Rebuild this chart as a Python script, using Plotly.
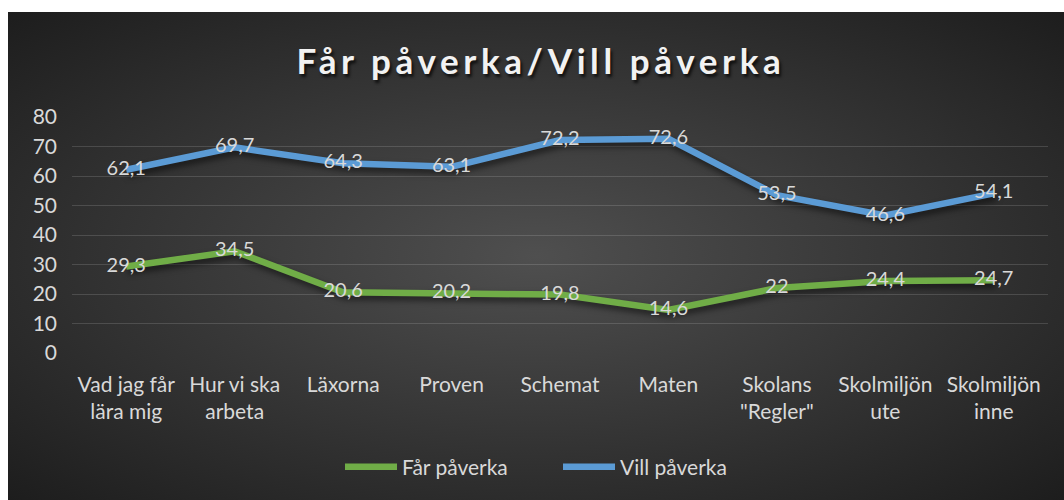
import base64
import plotly.graph_objects as go

categories = ["Vad jag får<br>lära mig", "Hur vi ska<br>arbeta", "Läxorna", "Proven", "Schemat",
              "Maten", "Skolans<br>\"Regler\"", "Skolmiljön<br>ute", "Skolmiljön<br>inne"]
far_paverka = [29.3, 34.5, 20.6, 20.2, 19.8, 14.6, 22, 24.4, 24.7]
vill_paverka = [62.1, 69.7, 64.3, 63.1, 72.2, 72.6, 53.5, 46.6, 54.1]
y_ticks = [0, 10, 20, 30, 40, 50, 60, 70, 80]

W, H = 1064, 500
L, R, T, B = 72, 16, 117, 147
pw, ph = W - L - R, H - T - B
BG_X, BG_Y = 8, 12

def fmt(v):
    return str(v).replace(".", ",")

bw, bh = W - BG_X, H - BG_Y
svg = (f'<svg xmlns="http://www.w3.org/2000/svg" width="{bw}" height="{bh}" viewBox="0 0 {bw} {bh}" '
       'preserveAspectRatio="none"><defs><radialGradient id="g" cx="50%" cy="50%" r="75%">'
       '<stop offset="0" stop-color="#4f4f4f"/><stop offset="1" stop-color="#1a1a1a"/>'
       f'</radialGradient></defs><rect width="{bw}" height="{bh}" fill="url(#g)"/></svg>')
uri = "data:image/svg+xml;base64," + base64.b64encode(svg.encode()).decode()

FONT = "Lato"
TXT = "#d9d9d9"

fig = go.Figure()
fig.add_trace(go.Scatter(
    x=list(range(len(categories))), y=far_paverka, name="Får påverka",
    mode="lines+text", text=[fmt(v) for v in far_paverka], textposition="middle center",
    textfont=dict(family=FONT, size=20, color=TXT),
    line=dict(color="#70AD47", width=6.5), hoverinfo="skip"))
fig.add_trace(go.Scatter(
    x=list(range(len(categories))), y=vill_paverka, name="Vill påverka",
    mode="lines+text", text=[fmt(v) for v in vill_paverka], textposition="middle center",
    textfont=dict(family=FONT, size=20, color=TXT),
    line=dict(color="#5B9BD5", width=6.5), hoverinfo="skip"))

fig.update_layout(
    width=W, height=H,
    margin=dict(l=L, r=R, t=T, b=B),
    paper_bgcolor="white", plot_bgcolor="rgba(0,0,0,0)",
    images=[dict(source=uri, xref="paper", yref="paper",
                 x=(BG_X - L) / pw, y=(H - B - BG_Y) / ph,
                 sizex=bw / pw, sizey=bh / ph,
                 xanchor="left", yanchor="top", sizing="stretch", layer="below")],
    title=dict(text="Får påverka/Vill påverka", x=541 / W, xanchor="center",
               y=1 - 62 / H, yanchor="middle", xref="container", yref="container",
               font=dict(family=FONT, size=35, color="#f2f2f2", weight="bold",
                         shadow="2px 3px 3px rgba(0,0,0,0.7)")),
    xaxis=dict(tickvals=list(range(len(categories))), ticktext=categories,
               range=[-0.5, len(categories) - 0.5], showgrid=False, zeroline=False,
               showline=False, ticks="", ticklabelstandoff=17,
               tickfont=dict(family=FONT, size=21, color=TXT)),
    yaxis=dict(range=[0, 80], tickvals=y_ticks, showgrid=True,
               gridcolor="rgba(255,255,255,0.14)", gridwidth=1, zeroline=False,
               showline=False, ticks="", ticklabelstandoff=14,
               tickfont=dict(family=FONT, size=21, color=TXT)),
    showlegend=True,
    legend=dict(orientation="h", xref="container", yref="container",
                x=(347 - 7) / W, xanchor="left", y=1 - 467 / H, yanchor="middle",
                font=dict(family=FONT, size=21, color=TXT), itemwidth=52,
                entrywidth=151, bgcolor="rgba(0,0,0,0)"),
)

post = """
document.body.style.margin = '0';
document.body.style.overflow = 'hidden';
var gd = document.getElementById('{plot_id}');
function sp(){
  gd.querySelectorAll('.gtitle').forEach(function(t){ t.style.letterSpacing='4.6px'; });
  gd.querySelectorAll('.scatterlayer .js-line').forEach(function(p){
    p.style.filter='drop-shadow(2px 4px 3px rgba(0,0,0,0.55))'; });
}
sp(); gd.on('plotly_afterplot', sp);
"""
fig.write_html("out.html", post_script=post, config={"displayModeBar": False})
